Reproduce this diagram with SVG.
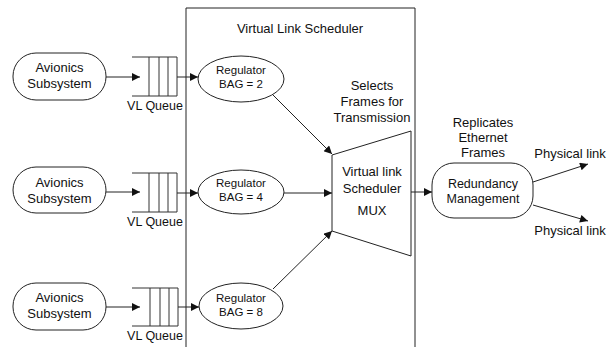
<svg xmlns="http://www.w3.org/2000/svg" width="616" height="347" viewBox="0 0 616 347">
<style>
text{font-family:"Liberation Sans",Arial,sans-serif;fill:#111;text-anchor:middle}
.t13{font-size:13px}
.t12{font-size:12.5px}
.t11{font-size:11.5px}
.sh{fill:#fff;stroke:#222;stroke-width:1}
.ln{fill:none;stroke:#222;stroke-width:1}
.q{fill:none;stroke:#333;stroke-width:1}
</style>
<defs>
<marker id="ah" viewBox="0 0 10 10" refX="10" refY="5" markerWidth="9" markerHeight="8" markerUnits="userSpaceOnUse" orient="auto">
<path d="M0,0 L10,5 L0,10 z" fill="#111"/>
</marker>
</defs>
<rect width="616" height="347" fill="#fff"/>
<g id="scheduler-box">
<path class="ln" d="M186,350 L186,8 L415,8 L415,350"/>
<text class="t13" x="300" y="33">Virtual Link Scheduler</text>
</g>
<g id="avionics1"><rect class="sh" x="13" y="53" width="93" height="47" rx="23" ry="23"/><text class="t13" x="59.5" y="72">Avionics</text><text class="t13" x="59.5" y="88">Subsystem</text></g>
<g id="avionics2"><rect class="sh" x="13" y="167" width="93" height="46" rx="23" ry="23"/><text class="t13" x="59.5" y="187">Avionics</text><text class="t13" x="59.5" y="203">Subsystem</text></g>
<g id="avionics3"><rect class="sh" x="13" y="283" width="93" height="47" rx="23" ry="23"/><text class="t13" x="59.5" y="302">Avionics</text><text class="t13" x="59.5" y="318">Subsystem</text></g>
<g id="queue1"><path class="q" d="M132,57 H177 V96 H132 M149,57 V96 M159,57 V96 M168,57 V96"/><text class="t12" x="155" y="110">VL Queue</text></g>
<g id="queue2"><path class="q" d="M132,173 H177 V212 H132 M149,173 V212 M159,173 V212 M168,173 V212"/><text class="t12" x="155" y="226">VL Queue</text></g>
<g id="queue3"><path class="q" d="M132,288 H178 V326 H132 M150,288 V326 M160,288 V326 M169,288 V326"/><text class="t12" x="155" y="340">VL Queue</text></g>
<g id="regulator1"><ellipse class="sh" cx="241" cy="79" rx="43" ry="23"/><text class="t11" x="241" y="74">Regulator</text><text class="t11" x="241" y="88">BAG = 2</text></g>
<g id="regulator2"><ellipse class="sh" cx="241" cy="192" rx="43" ry="22"/><text class="t11" x="241" y="187">Regulator</text><text class="t11" x="241" y="201">BAG = 4</text></g>
<g id="regulator3"><ellipse class="sh" cx="241" cy="306" rx="42" ry="23"/><text class="t11" x="241" y="302">Regulator</text><text class="t11" x="241" y="316">BAG = 8</text></g>
<g id="mux"><path class="sh" d="M332,155 L411,131 L411,256 L332,231 Z"/><text class="t13" x="372" y="176">Virtual link</text><text class="t13" x="372" y="193">Scheduler</text><text class="t13" x="372" y="215">MUX</text></g>
<g id="selects-label"><text class="t13" x="372" y="90">Selects</text><text class="t13" x="372" y="106">Frames for</text><text class="t13" x="372" y="122">Transmission</text></g>
<g id="redundancy"><rect class="sh" x="432" y="163" width="101" height="55" rx="22" ry="22"/><text class="t12" x="483" y="188">Redundancy</text><text class="t12" x="483" y="203">Management</text></g>
<g id="replicates-label"><text class="t13" x="483" y="127">Replicates</text><text class="t13" x="483" y="142">Ethernet</text><text class="t13" x="483" y="157">Frames</text></g>
<g id="phys1-label"><text class="t13" x="570" y="158">Physical link</text></g>
<g id="phys2-label"><text class="t13" x="570" y="235">Physical link</text></g>
<g id="connectors" class="ln">
<line x1="106" y1="77" x2="140" y2="77" marker-end="url(#ah)"/>
<line x1="106" y1="192" x2="140" y2="192" marker-end="url(#ah)"/>
<line x1="106" y1="307" x2="140" y2="307" marker-end="url(#ah)"/>
<line x1="177" y1="77" x2="198" y2="77" marker-end="url(#ah)"/>
<line x1="177" y1="193" x2="198" y2="193" marker-end="url(#ah)"/>
<line x1="178" y1="307" x2="199" y2="307" marker-end="url(#ah)"/>
<line x1="273" y1="95" x2="332" y2="154" marker-end="url(#ah)"/>
<line x1="284" y1="193" x2="332" y2="193" marker-end="url(#ah)"/>
<line x1="273" y1="289" x2="332" y2="231" marker-end="url(#ah)"/>
<line x1="411" y1="192" x2="432" y2="192" marker-end="url(#ah)"/>
<line x1="533" y1="182" x2="588" y2="164" marker-end="url(#ah)"/>
<line x1="533" y1="205" x2="588" y2="221" marker-end="url(#ah)"/>
</g>
</svg>
